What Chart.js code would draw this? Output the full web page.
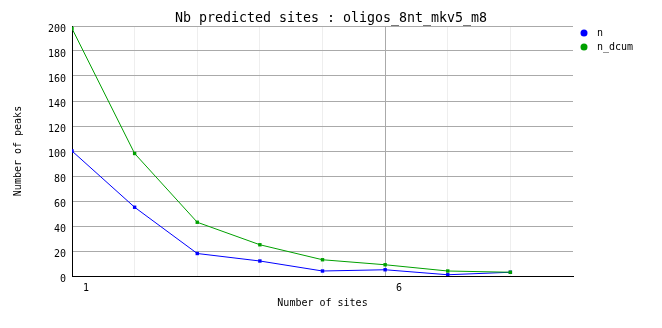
<!DOCTYPE html>
<html>
<head>
<meta charset="utf-8">
<title>Nb predicted sites</title>
<script src="https://cdn.jsdelivr.net/npm/chart.js@4/dist/chart.umd.min.js"></script>
<style>
    html, body { margin: 0; padding: 0; background: #fff; }
    canvas { display: block; }
</style>
</head>
<body>
<canvas id="sitesChart" width="662" height="328"></canvas>
<script>
// Data
const siteCounts = [1, 2, 3, 4, 5, 6, 7, 8];
const nValues = [100, 55, 18, 12, 4, 5, 1, 3];
const nDcumValues = [198, 98, 43, 25, 13, 9, 4, 3];
const shownXTicks = [1, 6];
const seriesNames = ['n', 'n_dcum'];
const seriesColors = ['#0000ff', '#00a000'];

const MONO = '"DejaVu Sans Mono", "Liberation Mono", monospace';

function toPoints(values) {
    return siteCounts.map((x, i) => ({ x: x, y: values[i] }));
}

// Small legend at the top right, drawn like the original
const sideLegend = {
    id: 'sideLegend',
    afterDraw(chart) {
        const ctx = chart.ctx;
        ctx.save();
        ctx.font = '10px ' + MONO;
        ctx.textBaseline = 'middle';
        ctx.textAlign = 'left';
        seriesNames.forEach((name, i) => {
            const y = 33 + i * 14;
            ctx.fillStyle = seriesColors[i];
            ctx.beginPath();
            ctx.arc(584, y, 3.5, 0, Math.PI * 2);
            ctx.fill();
            ctx.fillStyle = '#000';
            ctx.fillText(name, 597, y);
        });
        ctx.restore();
    }
};

const lineStyle = (i) => ({
    borderColor: seriesColors[i],
    backgroundColor: seriesColors[i],
    borderWidth: 1,
    pointStyle: 'rect',
    pointRadius: 2.4,
    pointBorderWidth: 0,
    pointHoverRadius: 2.4,
    tension: 0,
    fill: false
});

new Chart(document.getElementById('sitesChart'), {
    type: 'line',
    data: {
        datasets: [
            Object.assign({ label: seriesNames[0], data: toPoints(nValues), order: 1 }, lineStyle(0)),
            Object.assign({ label: seriesNames[1], data: toPoints(nDcumValues), order: 0 }, lineStyle(1))
        ]
    },
    options: {
        responsive: false,
        devicePixelRatio: 1,
        animation: false,
        layout: { padding: 0 },
        plugins: {
            legend: { display: false },
            tooltip: { enabled: false },
            title: {
                display: true,
                text: 'Nb predicted sites : oligos_8nt_mkv5_m8',
                color: '#000',
                font: { family: MONO, size: 13.3, weight: 'normal', lineHeight: '14px' },
                padding: { top: 12, bottom: 0 }
            }
        },
        scales: {
            x: {
                type: 'linear',
                min: 1,
                max: 9,
                afterFit(scale) { scale.height = 52; },
                afterBuildTicks(scale) {
                    scale.ticks = siteCounts.concat([9]).map(v => ({ value: v }));
                },
                ticks: {
                    autoSkip: false,
                    maxRotation: 0,
                    padding: 6,
                    labelOffset: 14,
                    color: '#000',
                    font: { family: MONO, size: 10 },
                    callback: (v) => shownXTicks.includes(v) ? String(v) : ''
                },
                grid: {
                    drawTicks: false,
                    lineWidth: 1,
                    color: (c) => {
                        if (!c.tick) return 'transparent';
                        if (c.tick.value === 9) return 'transparent';
                        return shownXTicks.includes(c.tick.value) ? '#aaaaaa' : '#eeeeee';
                    }
                },
                border: { color: '#000', width: 1 },
                title: {
                    display: true,
                    text: 'Number of sites',
                    color: '#000',
                    font: { family: MONO, size: 10 },
                    padding: { top: 0, bottom: 19 }
                }
            },
            y: {
                min: 0,
                max: 200,
                afterFit(scale) { scale.width = 72; },
                ticks: {
                    stepSize: 20,
                    padding: 6,
                    labelOffset: 3,
                    color: '#000',
                    font: { family: MONO, size: 10 }
                },
                grid: {
                    drawTicks: false,
                    color: '#aaaaaa',
                    lineWidth: 1
                },
                border: { color: '#000', width: 1 },
                title: {
                    display: true,
                    text: 'Number of peaks',
                    color: '#000',
                    font: { family: MONO, size: 10 },
                    padding: { top: 12, bottom: 0 }
                }
            },
            // empty right-hand scale that reserves the legend column
            legendSpace: {
                type: 'linear',
                position: 'right',
                afterFit(scale) { scale.width = 89; },
                ticks: { display: false },
                grid: { display: false, drawTicks: false },
                border: { display: false }
            }
        }
    },
    plugins: [sideLegend]
});
</script>
</body>
</html>
